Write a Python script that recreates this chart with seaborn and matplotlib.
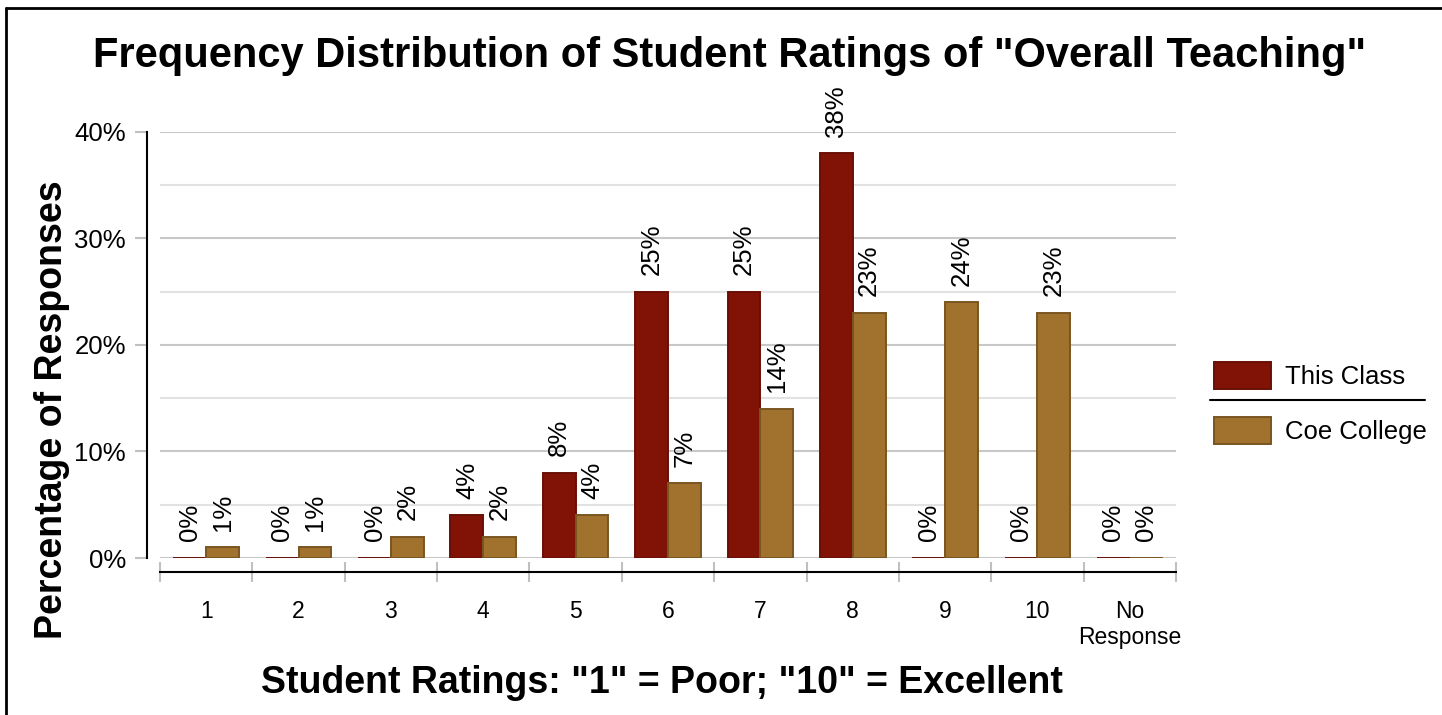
import seaborn as sns
import matplotlib.pyplot as plt
import pandas as pd
from matplotlib.patches import Patch
from matplotlib.lines import Line2D
from matplotlib.ticker import MultipleLocator, FuncFormatter

ratings = ["1", "2", "3", "4", "5", "6", "7", "8", "9", "10", "No\nResponse"]
this_class = [0, 0, 0, 4, 8, 25, 25, 38, 0, 0, 0]
coe_college = [1, 1, 2, 2, 4, 7, 14, 23, 24, 23, 0]
groups = ["This Class", "Coe College"]

df = pd.DataFrame({
    "rating": ratings * 2,
    "pct": this_class + coe_college,
    "group": [groups[0]] * len(ratings) + [groups[1]] * len(ratings),
})

sns.set_style("white")
plt.rcParams['font.family'] = ['Liberation Sans', 'DejaVu Sans']
plt.rcParams['text.color'] = 'black'

fills = ["#811206", "#A0722D"]
edges = ["#6a0f06", "#7a5520"]

fig = plt.figure(figsize=(14.42, 7.15), dpi=100)
ax = fig.add_axes([160 / 1442, 1 - 558 / 715, (1176 - 160) / 1442, (558 - 132) / 715])

sns.barplot(data=df, x="rating", y="pct", hue="group", palette=fills,
            width=0.71, saturation=1, ax=ax, legend=False, zorder=3)

for cont, ec, vals in zip(ax.containers, edges, [this_class, coe_college]):
    for bar in cont:
        bar.set_edgecolor(ec)
        bar.set_linewidth(1.4)
    ax.bar_label(cont, labels=[f"{v}%" for v in vals], rotation=90,
                 padding=12, fontsize=18.5, color="black", clip_on=False)

ax.set_xlim(-0.5, 10.5)
ax.set_ylim(0, 40)
ax.yaxis.set_major_locator(MultipleLocator(10))
ax.yaxis.set_minor_locator(MultipleLocator(5))
ax.yaxis.set_major_formatter(FuncFormatter(lambda v, p: f"{v:.0f}%"))
ax.grid(axis="y", which="major", color="#c8c8c8", linewidth=1.5, zorder=0)
ax.grid(axis="y", which="minor", color="#e2e2e2", linewidth=1.5, zorder=0)
ax.set_axisbelow(True)

ax.xaxis.set_minor_locator(MultipleLocator(1, offset=0.5))
ax.tick_params(axis="x", which="major", length=0, labelsize=16.5, pad=20,
               labelcolor="black")
ax.tick_params(axis="x", which="minor", direction="inout", length=14,
               color="#c0c0c0", width=1.5, bottom=True)
ax.tick_params(axis="y", which="major", direction="out", length=9,
               color="#c0c0c0", width=1.5, labelsize=18.5, pad=6, left=True,
               labelcolor="black")
ax.tick_params(axis="y", which="minor", length=0)
ax.set_xlabel("")
ax.set_ylabel("")

for s in ["top", "right"]:
    ax.spines[s].set_visible(False)
ax.spines["left"].set_position(("outward", 9.4))
ax.spines["bottom"].set_position(("outward", 10))
ax.spines["left"].set_color("black")
ax.spines["bottom"].set_color("black")
ax.spines["left"].set_linewidth(1.5)
ax.spines["bottom"].set_linewidth(1.5)

fig.text(730 / 1442, 1 - 56 / 715, 'Frequency Distribution of Student Ratings of "Overall Teaching"',
         ha="center", va="center", fontsize=30, fontweight="bold")
fig.text(52 / 1442, 1 - 410 / 715, "Percentage of Responses", rotation=90,
         ha="center", va="center", fontsize=27, fontweight="bold")
fig.text(662 / 1442, 1 - 683 / 715, 'Student Ratings: "1" = Poor; "10" = Excellent',
         ha="center", va="center", fontsize=27, fontweight="bold")

handles = [Patch(facecolor=f, edgecolor=e, linewidth=1.4) for f, e in zip(fills, edges)]
fig.legend(handles, groups, loc="center left", bbox_to_anchor=(1191 / 1442, 1 - 403 / 715),
           frameon=False, fontsize=18.5, handlelength=2.2, handleheight=1.25,
           handletextpad=0.55, labelspacing=1.1)
fig.add_artist(Line2D([1210 / 1442, 1425 / 1442], [1 - 400 / 715, 1 - 400 / 715],
                      color="black", linewidth=1.5))

# frame lines at top and left
fig.add_artist(Line2D([6 / 1442, 6 / 1442], [0, 1 - 8 / 715], color="black", linewidth=2))
fig.add_artist(Line2D([6 / 1442, 1], [1 - 8 / 715, 1 - 8 / 715], color="black", linewidth=2))

fig.savefig("out.png", dpi=100)
